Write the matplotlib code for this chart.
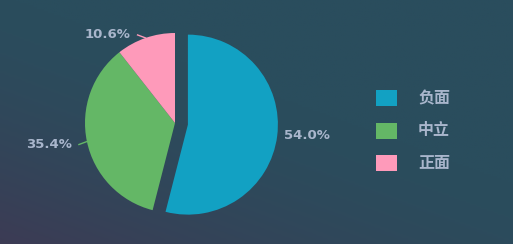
import numpy as np
import matplotlib
matplotlib.use('Agg')
import matplotlib.pyplot as plt
from matplotlib.colors import LinearSegmentedColormap
from matplotlib.patches import Rectangle

## Dati
categories = ['负面', '中立', '正面']
values = [54.0, 35.4, 10.6]
colors = ['#12a1c3', '#64b766', '#fe9aba']
txt_color = '#a9b6cc'

W, H = 513, 244
fig = plt.figure(figsize=(W/100, H/100), dpi=100)

## Sfondo sfumato
bg = fig.add_axes([0, 0, 1, 1], zorder=0)
bg.set_axis_off()
yy, xx = np.mgrid[0:1:120j, 0:1:240j]
t = np.clip(yy*0.9 - xx*0.7 + 0.05, 0, 1)**1.6
cmap = LinearSegmentedColormap.from_list('bg', ['#2a4d5d', '#3e3a54'])
bg.imshow(t, cmap=cmap, aspect='auto', extent=[0, 1, 0, 1], vmin=0, vmax=1)

## Torta (coordinate in pixel)
ax = fig.add_axes([0, 0, 1, 1], zorder=1)
ax.set_axis_off()
ax.patch.set_alpha(0)

cx, cy, r = 175, H - 123, 90
expl = [13, 0, 0]   # pixel (pie usa unita' dati per explode)
wedges, _ = ax.pie(values, colors=colors, startangle=90, counterclock=False,
                   center=(cx, cy), radius=r, explode=expl,
                   wedgeprops=dict(linewidth=0))
ax.set_xlim(0, W)
ax.set_ylim(0, H)
ax.set_aspect('auto')

fs = dict(fontsize=9.5, fontweight='bold', color=txt_color, family='DejaVu Sans')
for w, v, c, ex in zip(wedges, values, colors, expl):
    ang = np.deg2rad((w.theta1 + w.theta2) / 2)
    ox, oy = np.cos(ang), np.sin(ang)
    px, py = cx + (ex + r)*ox, cy + (ex + r)*oy
    lab = '%.1f%%' % v
    if ox > 0:
        ax.text(px + 7, py, lab, ha='left', va='center', **fs)
    else:
        qx, qy = px - 8, py + 3*np.sign(oy)
        ax.plot([px, qx], [py, qy], color=c, lw=1)
        ax.text(qx - 7, qy, lab, ha='right', va='center', **fs)

## Legenda
for i, (cat, c) in enumerate(zip(categories, colors)):
    y0 = H - (98 + i*32.5)
    ax.add_patch(Rectangle((376, y0 - 8), 21, 16, facecolor=c, edgecolor=c, lw=0))
    ax.text(418, y0, cat, ha='left', va='center', fontsize=11.5, color=txt_color,
            family=['Noto Sans CJK SC', 'DejaVu Sans'], fontweight='bold')

fig.savefig('out.png', dpi=100)
